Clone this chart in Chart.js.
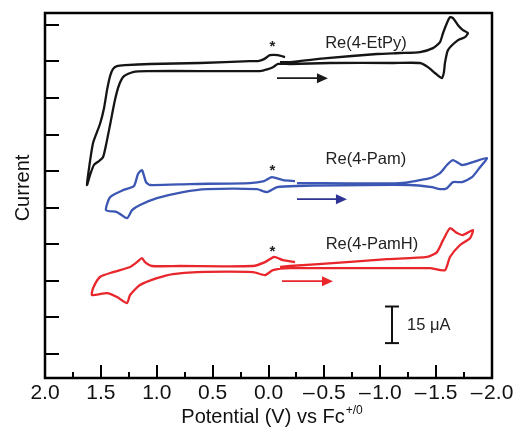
<!DOCTYPE html>
<html>
<head>
<meta charset="utf-8">
<script src="https://cdn.jsdelivr.net/npm/chart.js@4"></script>
<style>
  html, body { margin: 0; padding: 0; background: #fff; }
</style>
</head>
<body>
<canvas id="cv" width="513" height="427"></canvas>
<script>
  // ---- data (potential in V vs Fc+/0, current in uA) ----
  const xTicks = [2, 1.5, 1, 0.5, 0, -0.5, -1, -1.5, -2];
  const xMinorTicks = [1.75, 1.25, 0.75, 0.25, -0.25, -0.75, -1.25, -1.75];
  const yTicks = [0, 15, 30, 45, 60, 75, 90, 105, 120, 135];

  // Re(4-EtPy)
  const etpyV = [-0.148, -0.085, -0.013, 0.040, 0.094, 0.166, 0.613, 1.060, 1.284, 1.356, 1.392, 1.418, 1.445, 1.472, 1.508, 1.570, 1.606, 1.624,
    1.597, 1.562, 1.517, 1.481, 1.454, 1.418, 1.374, 1.338, 1.293, 1.213, 1.087, 0.613, 0.076, 0.004, -0.040, -0.085, -0.192, -0.550, -1.114,
    -1.356, -1.427, -1.490, -1.553, -1.570, -1.579, -1.606, -1.696, -1.758, -1.785, -1.740, -1.696, -1.651, -1.624, -1.597, -1.562, -1.535,
    -1.472, -1.356, -1.177, -0.971, -0.523, -0.192, -0.103];
  const etpyI = [121.7, 122.5, 122.5, 120.9, 120.1, 120.1, 119.3, 118.9, 118.4, 118.0, 116.8, 113.9, 108.2, 100.8, 94.3, 86.5, 76.2, 69.3,
    73.4, 77.5, 79.1, 80.7, 85.7, 93.9, 104.1, 110.2, 113.9, 115.6, 116.0, 116.0, 116.0, 116.8, 117.6, 118.9, 118.9, 119.3, 119.3,
    119.3, 117.6, 115.2, 113.1, 115.6, 119.3, 124.6, 128.7, 129.9, 131.6, 132.8, 134.8, 137.7, 138.1, 135.7, 131.6, 127.9,
    125.4, 123.8, 123.4, 123.0, 121.3, 119.7, 119.7];

  // Re(4-Pam)
  const pamV = [-0.237, -0.130, -0.031, 0.040, 0.166, 0.702, 1.060, 1.096, 1.132, 1.168, 1.204, 1.302, 1.418, 1.454, 1.356, 1.266, 1.221,
    1.150, 0.998, 0.765, 0.550, 0.103, 0.013, -0.076, -0.255, -1.266, -1.463, -1.535, -1.597, -1.651, -1.732, -1.821, -1.893, -1.955,
    -1.830, -1.732, -1.651, -1.597, -1.535, -1.445, -1.177, -0.255];
  const pamI = [70.9, 71.3, 72.5, 70.9, 70.1, 69.7, 69.3, 70.5, 75.4, 73.8, 68.9, 67.2, 64.3, 59.0, 58.2, 55.7, 59.0,
    61.1, 63.9, 66.4, 67.6, 67.6, 66.4, 68.4, 68.9, 69.3, 68.4, 67.6, 68.0, 70.5, 70.5, 72.5, 76.6, 80.3,
    78.7, 77.5, 79.5, 77.5, 74.2, 72.1, 70.1, 70.1];

  // Re(4-PamH)
  const pamhV = [-0.237, -0.130, -0.049, 0.031, 0.139, 0.792, 1.043, 1.105, 1.132, 1.177, 1.239, 1.392, 1.508, 1.570, 1.579, 1.445, 1.356,
    1.266, 1.239, 1.150, 0.998, 0.855, 0.640, 0.139, 0.031, -0.040, -0.192, -0.702, -1.445, -1.579, -1.624, -1.714, -1.803, -1.830,
    -1.740, -1.687, -1.624, -1.562, -1.508, -1.418, -1.060, -0.702, -0.192, -0.103];
  const pamhI = [37.7, 38.5, 39.8, 37.7, 36.1, 36.1, 36.1, 37.7, 39.3, 37.7, 35.7, 33.6, 31.6, 27.0, 24.2, 25.0, 23.4,
    20.9, 24.2, 28.3, 31.1, 32.8, 33.6, 33.6, 32.4, 34.4, 35.2, 35.2, 35.2, 34.4, 39.8, 44.7, 47.5, 50.8,
    48.8, 49.6, 51.6, 46.7, 41.8, 39.8, 38.9, 37.7, 36.1, 35.7];

  const seriesNames = ['Re(4-EtPy)', 'Re(4-Pam)', 'Re(4-PamH)'];

  // ---- annotations (data coordinates) ----
  const notes = [
    { text: 'Re(4-EtPy)', v: -0.872, i: 127.5, star: 127.0, arrow: [-0.076, -0.532, 113.1], color: '#1a1a1a' },
    { text: 'Re(4-Pam)', v: -0.872, i: 79.9, star: 76.2, arrow: [-0.255, -0.702, 63.5], color: '#2e3394' },
    { text: 'Re(4-PamH)', v: -0.926, i: 45.1, star: 43.0, arrow: [-0.121, -0.577, 29.9], color: '#e8262b' }
  ];
  const scaleBar = { v: -1.105, from: 4.5, to: 19.5, label: '15 \u03bcA' };

  const FONT = "'Liberation Sans', Arial, Helvetica, sans-serif";
  const toPts = (vs, is) => vs.map((v, k) => ({ x: v, y: is[k] }));

  const axesPlugin = {
    id: 'axesPlugin',
    afterDraw(chart) {
      const { ctx, chartArea: a, scales: { x, y } } = chart;
      ctx.save();
      ctx.strokeStyle = '#000';
      ctx.lineWidth = 2.5;
      ctx.strokeRect(a.left, a.top, a.right - a.left, a.bottom - a.top);

      const seg = (x1, y1, x2, y2) => { ctx.beginPath(); ctx.moveTo(x1, y1); ctx.lineTo(x2, y2); ctx.stroke(); };
      ctx.lineWidth = 2;
      yTicks.forEach(v => { const py = Math.round(y.getPixelForValue(v)); seg(a.left, py, a.left + 14, py); });
      xTicks.forEach(v => { const px = Math.round(x.getPixelForValue(v)); seg(px, a.bottom, px, a.bottom - 13); });
      xMinorTicks.forEach(v => { const px = Math.round(x.getPixelForValue(v)); seg(px, a.bottom, px, a.bottom - 6); });

      // series labels, stars, scan arrows
      notes.forEach(n => {
        ctx.fillStyle = '#222';
        ctx.font = '16.5px ' + FONT;
        ctx.textAlign = 'center';
        ctx.textBaseline = 'middle';
        ctx.fillText(n.text, x.getPixelForValue(n.v), y.getPixelForValue(n.i));

        ctx.font = 'bold 15px ' + FONT;
        ctx.fillText('*', x.getPixelForValue(-0.035), y.getPixelForValue(n.star) + 3);

        const x1 = x.getPixelForValue(n.arrow[0]), x2 = x.getPixelForValue(n.arrow[1]);
        const ay = y.getPixelForValue(n.arrow[2]);
        ctx.strokeStyle = n.color;
        ctx.fillStyle = n.color;
        ctx.lineWidth = 1.8;
        seg(x1, ay, x2 - 8, ay);
        ctx.beginPath();
        ctx.moveTo(x2, ay);
        ctx.lineTo(x2 - 11, ay - 5);
        ctx.lineTo(x2 - 11, ay + 5);
        ctx.closePath();
        ctx.fill();
      });

      // 15 uA scale bar
      const bx = x.getPixelForValue(scaleBar.v);
      const b1 = y.getPixelForValue(scaleBar.from), b2 = y.getPixelForValue(scaleBar.to);
      ctx.strokeStyle = '#111';
      ctx.lineWidth = 2;
      seg(bx, b1, bx, b2);
      seg(bx - 7, b1, bx + 7, b1);
      seg(bx - 7, b2, bx + 7, b2);
      ctx.fillStyle = '#222';
      ctx.font = '16.5px ' + FONT;
      ctx.textAlign = 'left';
      ctx.textBaseline = 'middle';
      ctx.fillText(scaleBar.label, bx + 15, (b1 + b2) / 2 + 1);

      // axis titles
      ctx.fillStyle = '#111';
      ctx.font = '20px ' + FONT;
      const main = 'Potential (V) vs Fc';
      const sup = '+/0';
      const w1 = ctx.measureText(main).width;
      ctx.font = '12px ' + FONT;
      const w2 = ctx.measureText(sup).width;
      const cx = (a.left + a.right) / 2 + 3;
      const start = cx - (w1 + w2) / 2;
      ctx.textAlign = 'left';
      ctx.textBaseline = 'alphabetic';
      ctx.font = '20px ' + FONT;
      ctx.fillText(main, start, 423);
      ctx.font = '12px ' + FONT;
      ctx.fillText(sup, start + w1 + 1, 414);

      ctx.font = '20px ' + FONT;
      ctx.translate(23, 188);
      ctx.rotate(-Math.PI / 2);
      ctx.textAlign = 'center';
      ctx.textBaseline = 'middle';
      ctx.fillText('Current', 0, 0);
      ctx.restore();
    }
  };

  const lineStyle = (label, pts, color) => ({
    label: label,
    data: pts,
    borderColor: color,
    backgroundColor: color,
    borderWidth: 2.3,
    pointRadius: 0,
    tension: 0.2,
    fill: false
  });

  new Chart(document.getElementById('cv'), {
    type: 'line',
    data: {
      datasets: [
        lineStyle(seriesNames[0], toPts(etpyV, etpyI), '#151515'),
        lineStyle(seriesNames[1], toPts(pamV, pamI), '#3c57b3'),
        lineStyle(seriesNames[2], toPts(pamhV, pamhI), '#e8262b')
      ]
    },
    options: {
      responsive: false,
      animation: false,
      layout: { padding: { top: 13, right: 21, left: 0, bottom: 0 } },
      plugins: { legend: { display: false }, tooltip: { enabled: false } },
      scales: {
        x: {
          type: 'linear',
          reverse: true,
          min: -2,
          max: 2,
          afterBuildTicks: s => { s.ticks = xTicks.map(v => ({ value: v })); },
          afterFit: s => { s.height = 49; s.paddingLeft = 0; s.paddingRight = 0; },
          grid: { display: false, drawTicks: false },
          border: { display: false },
          ticks: {
            maxRotation: 0,
            autoSkip: false,
            padding: 3,
            color: '#111',
            font: { size: 21, family: FONT },
            callback: v => v === 0 ? '0.0' : (v < 0 ? '\u2013\u200a' + (-v).toFixed(1) : v.toFixed(1))
          }
        },
        y: {
          type: 'linear',
          min: -9.8,
          max: 139.8,
          afterFit: s => { s.width = 45; },
          grid: { display: false, drawTicks: false },
          border: { display: false },
          ticks: { display: false }
        }
      }
    },
    plugins: [axesPlugin]
  });
</script>
</body>
</html>
